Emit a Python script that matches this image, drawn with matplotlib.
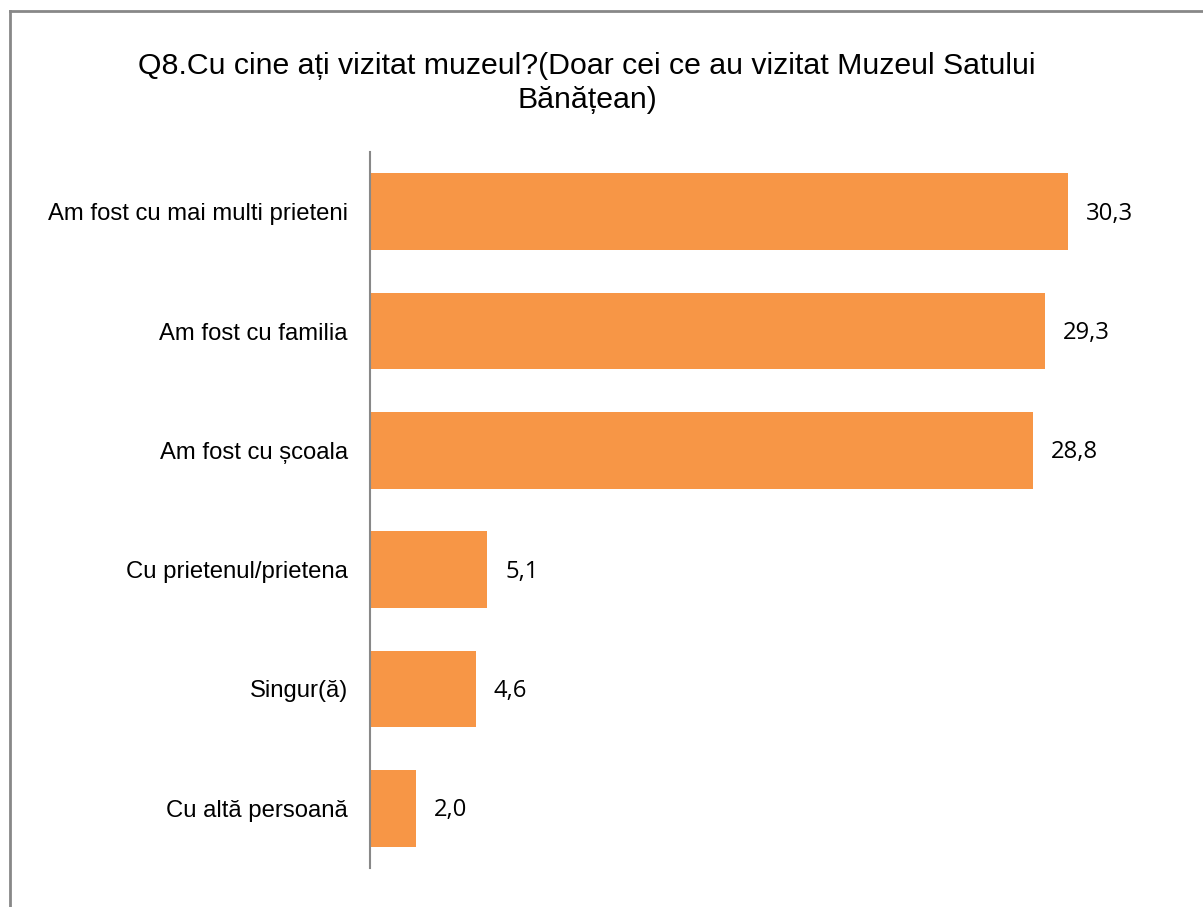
import matplotlib
matplotlib.use('Agg')
import matplotlib.pyplot as plt
from matplotlib.lines import Line2D

categories = ["Am fost cu mai multi prieteni", "Am fost cu familia", "Am fost cu școala",
              "Cu prietenul/prietena", "Singur(ă)", "Cu altă persoană"]
values = [30.3, 29.3, 28.8, 5.1, 4.6, 2.0]
value_labels = ["30,3", "29,3", "28,8", "5,1", "4,6", "2,0"]

W, H = 1203, 907
fig = plt.figure(figsize=(W / 100, H / 100), dpi=100)
plt.rcParams['font.family'] = ['Liberation Sans', 'DejaVu Sans']

# outer frame (only left and top are visible in the crop)
fig.add_artist(Line2D([10 / W, 10 / W], [0, 1 - 11 / H], color='#888888', lw=2))
fig.add_artist(Line2D([10 / W, 1], [1 - 11 / H, 1 - 11 / H], color='#888888', lw=2))

ax_l, ax_r = 370 / W, 1153 / W
ax_t, ax_b = 1 - 152 / H, 1 - 868 / H
ax = fig.add_axes([ax_l, ax_b, ax_r - ax_l, ax_t - ax_b])

y = list(range(len(categories)))
ax.barh(y, values, height=0.645, color='#F79646')
ax.set_ylim(len(categories) - 0.5, -0.5)
ax.set_xlim(0, 34)

ax.set_yticks(y)
ax.set_yticklabels(categories, fontsize=17.2)
ax.tick_params(axis='y', length=0, pad=16)
ax.set_xticks([])
for s in ['top', 'right', 'bottom']:
    ax.spines[s].set_visible(False)
ax.spines['left'].set_color('#888888')
ax.spines['left'].set_linewidth(1.5)

# value labels next to the bars
for yi, v, lab in zip(y, values, value_labels):
    ax.annotate(lab, (v, yi), xytext=(18, -2), textcoords='offset pixels',
                va='center', ha='left', fontsize=17.2, family=['Open Sans', 'DejaVu Sans'])

fig.text(587 / W, 1 - 66 / H, "Q8.Cu cine ați vizitat muzeul?(Doar cei ce au vizitat Muzeul Satului",
         ha='center', va='center', fontsize=21.8)
fig.text(587 / W, 1 - 100 / H, "Bănățean)", ha='center', va='center', fontsize=21.8)

fig.savefig('out.png', dpi=100)
